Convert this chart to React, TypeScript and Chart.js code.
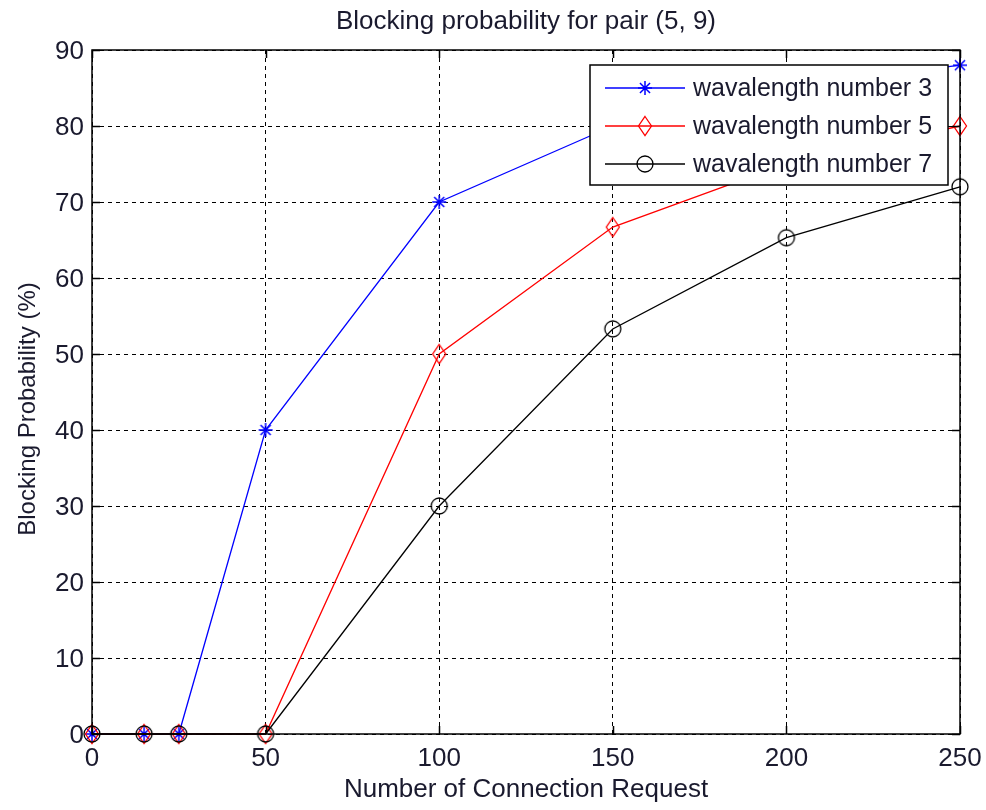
import React, { useEffect, useRef } from "react";
import { Chart, registerables } from "chart.js";

Chart.register(...registerables);

const requests = [0, 15, 25, 50, 100, 150, 200, 250];
const wavelength3 = [0, 0, 0, 40, 70, 80, 85, 88];
const wavelength5 = [0, 0, 0, 0, 50, 66.7, 75, 80];
const wavelength7 = [0, 0, 0, 0, 30, 53.3, 65.3, 72];
const seriesLabels = ["wavalength number 3", "wavalength number 5", "wavalength number 7"];
const seriesColors = ["#0000ff", "#ff0000", "#000000"];
const xTicks = [0, 50, 100, 150, 200, 250];
const yTicks = [0, 10, 20, 30, 40, 50, 60, 70, 80, 90];

const TITLE = "Blocking probability for pair (5, 9)";
const X_TITLE = "Number of Connection Request";
const Y_TITLE = "Blocking Probability (%)";

const FONT = '"Liberation Sans", Arial, Helvetica, sans-serif';
const TEXT_COLOR = "#1a1a2e";

function drawStar(ctx: CanvasRenderingContext2D, x: number, y: number, r: number, color: string) {
  ctx.save();
  ctx.strokeStyle = color;
  ctx.lineWidth = 1.5;
  ctx.beginPath();
  ctx.moveTo(x - r, y); ctx.lineTo(x + r, y);
  ctx.moveTo(x, y - r); ctx.lineTo(x, y + r);
  const d = r * 0.72;
  ctx.moveTo(x - d, y - d); ctx.lineTo(x + d, y + d);
  ctx.moveTo(x - d, y + d); ctx.lineTo(x + d, y - d);
  ctx.stroke();
  ctx.restore();
}

function drawDiamond(ctx: CanvasRenderingContext2D, x: number, y: number, w: number, h: number, color: string) {
  ctx.save();
  ctx.strokeStyle = color;
  ctx.lineWidth = 1.3;
  ctx.beginPath();
  ctx.moveTo(x, y - h);
  ctx.lineTo(x + w, y);
  ctx.lineTo(x, y + h);
  ctx.lineTo(x - w, y);
  ctx.closePath();
  ctx.stroke();
  ctx.restore();
}

function drawCircle(ctx: CanvasRenderingContext2D, x: number, y: number, r: number, color: string) {
  ctx.save();
  ctx.strokeStyle = color;
  ctx.lineWidth = 1.3;
  ctx.beginPath();
  ctx.arc(x, y, r, 0, Math.PI * 2);
  ctx.stroke();
  ctx.restore();
}

const markerKinds = ["star", "diamond", "circle"];

function drawMarker(ctx: CanvasRenderingContext2D, kind: string, x: number, y: number, color: string) {
  if (kind === "star") drawStar(ctx, x, y, 7, color);
  if (kind === "diamond") drawDiamond(ctx, x, y, 6.5, 9.5, color);
  if (kind === "circle") drawCircle(ctx, x, y, 8, color);
}

function markerCanvas(kind: string, color: string): HTMLCanvasElement {
  const c = document.createElement("canvas");
  c.width = 24;
  c.height = 24;
  const ctx = c.getContext("2d")!;
  drawMarker(ctx, kind, 12, 12, color);
  return c;
}

const decorations = {
  id: "matlabDecorations",
  afterDatasetsDraw(chart: any) {
    const { ctx, chartArea } = chart;
    const { left, right, top, bottom } = chartArea;
    const xs = chart.scales.x;
    const ys = chart.scales.y;

    ctx.save();
    // axes box with inward tick marks
    ctx.strokeStyle = "#000";
    ctx.lineWidth = 1.5;
    ctx.setLineDash([]);
    ctx.strokeRect(left, top, right - left, bottom - top);
    ctx.beginPath();
    const tl = 8;
    xTicks.forEach((v) => {
      const px = Math.round(xs.getPixelForValue(v)) + 0.5;
      ctx.moveTo(px, bottom); ctx.lineTo(px, bottom - tl);
      ctx.moveTo(px, top); ctx.lineTo(px, top + tl);
    });
    yTicks.forEach((v) => {
      const py = Math.round(ys.getPixelForValue(v)) + 0.5;
      ctx.moveTo(left, py); ctx.lineTo(left + tl, py);
      ctx.moveTo(right, py); ctx.lineTo(right - tl, py);
    });
    ctx.stroke();

    // tick labels
    ctx.fillStyle = TEXT_COLOR;
    ctx.font = `26px ${FONT}`;
    ctx.textBaseline = "alphabetic";
    ctx.textAlign = "center";
    xTicks.forEach((v) => {
      ctx.fillText(String(v), xs.getPixelForValue(v), bottom + 32);
    });
    ctx.textAlign = "right";
    yTicks.forEach((v) => {
      ctx.fillText(String(v), left - 8, ys.getPixelForValue(v) + 9);
    });

    // legend
    const bx = 590, by = 65, bw = 358, bh = 120;
    ctx.fillStyle = "#fff";
    ctx.fillRect(bx, by, bw, bh);
    ctx.strokeStyle = "#000";
    ctx.lineWidth = 1.5;
    ctx.strokeRect(bx, by, bw, bh);
    ctx.font = `25px ${FONT}`;
    ctx.textBaseline = "middle";
    ctx.textAlign = "left";
    const rows = [88, 126, 164];
    rows.forEach((ry, i) => {
      const col = seriesColors[i];
      ctx.strokeStyle = col;
      ctx.lineWidth = 1.3;
      ctx.beginPath();
      ctx.moveTo(605, ry); ctx.lineTo(685, ry);
      ctx.stroke();
      drawMarker(ctx, markerKinds[i], 645, ry, col);
      ctx.fillStyle = TEXT_COLOR;
      ctx.fillText(seriesLabels[i], 693, ry + 1);
    });
    ctx.restore();
  },
  afterDraw(chart: any) {
    const { ctx, chartArea } = chart;
    const cx = (chartArea.left + chartArea.right) / 2;
    ctx.save();
    ctx.fillStyle = TEXT_COLOR;
    ctx.textAlign = "center";
    ctx.textBaseline = "middle";
    ctx.font = `26px ${FONT}`;
    ctx.fillText(TITLE, cx, 22);
    ctx.fillText(X_TITLE, cx, 790);
    ctx.font = `24px ${FONT}`;
    ctx.translate(28, 409);
    ctx.rotate(-Math.PI / 2);
    ctx.fillText(Y_TITLE, 0, 0);
    ctx.restore();
  },
};

export default function App() {
  const ref = useRef<HTMLCanvasElement | null>(null);

  useEffect(() => {
    document.body.style.margin = "0";
    const canvas = ref.current!;
    const series = [wavelength3, wavelength5, wavelength7];
    const chart = new Chart(canvas, {
      type: "line",
      data: {
        datasets: series.map((vals, i) => ({
          label: seriesLabels[i],
          data: requests.map((x, j) => ({ x, y: vals[j] })),
          borderColor: seriesColors[i],
          backgroundColor: seriesColors[i],
          borderWidth: 1.3,
          pointStyle: markerCanvas(markerKinds[i], seriesColors[i]) as any,
          pointRadius: 8,
          pointHoverRadius: 8,
          tension: 0,
          clip: false as any,
          order: 2 - i,
        })),
      },
      options: {
        animation: false,
        responsive: false,
        events: [],
        layout: { padding: { top: 50, right: 26, left: 0, bottom: 0 } },
        plugins: {
          legend: { display: false },
          title: { display: false },
          tooltip: { enabled: false },
        },
        scales: {
          x: {
            type: "linear",
            min: 0,
            max: 250,
            afterBuildTicks: (s: any) => {
              s.ticks = xTicks.map((v) => ({ value: v }));
            },
            afterFit: (s: any) => {
              s.height = 76;
            },
            grid: { color: "#000", lineWidth: 1, drawTicks: false },
            border: { display: false, dash: [4, 4] },
            ticks: { display: false },
          },
          y: {
            type: "linear",
            min: 0,
            max: 90,
            afterBuildTicks: (s: any) => {
              s.ticks = yTicks.map((v) => ({ value: v }));
            },
            afterFit: (s: any) => {
              s.width = 92;
            },
            grid: { color: "#000", lineWidth: 1, drawTicks: false },
            border: { display: false, dash: [4, 4] },
            ticks: { display: false },
          },
        },
      },
      plugins: [decorations],
    });
    return () => chart.destroy();
  }, []);

  return <canvas ref={ref} width={986} height={810} style={{ display: "block" }} />;
}
